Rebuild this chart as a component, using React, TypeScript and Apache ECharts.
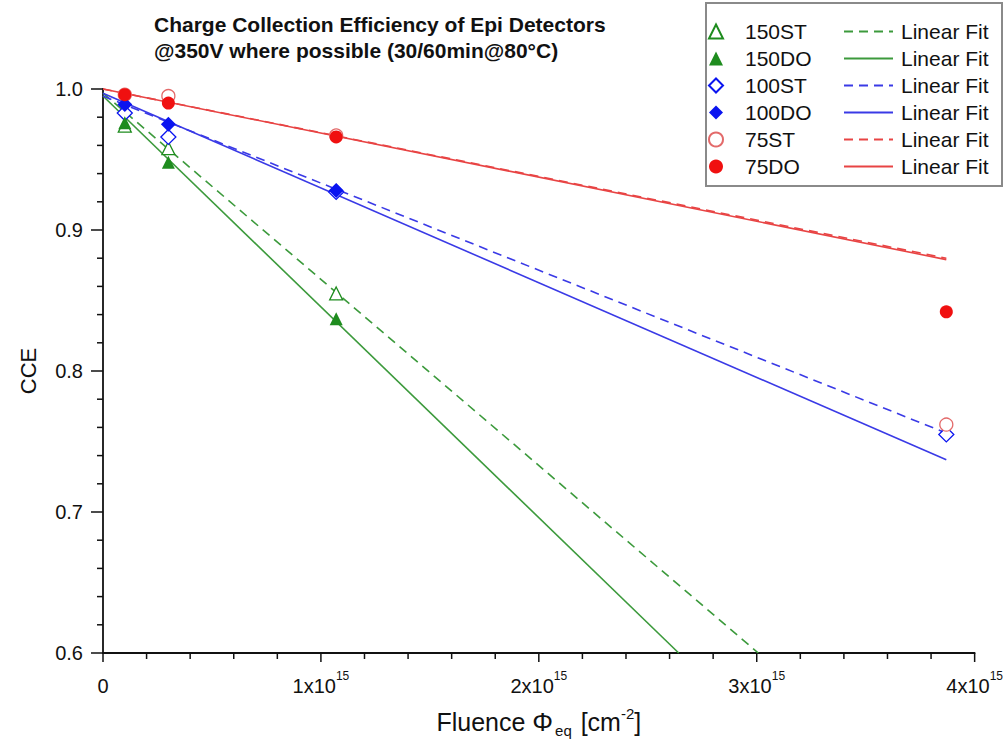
import React, { useEffect, useRef } from 'react';
import * as echarts from 'echarts';

// Fluence points [cm^-2]
const fluence = [1e14, 3e14, 1.07e15, 3.87e15];

// CCE values per detector (null = no measurement)
const cce150ST = [0.974, 0.958, 0.855, null];
const cce150DO = [0.976, 0.948, 0.837, null];
const cce100ST = [0.983, 0.966, 0.927, 0.755];
const cce100DO = [0.989, 0.975, 0.928, null];
const cce75ST = [0.996, 0.995, 0.967, 0.762];
const cce75DO = [0.996, 0.99, 0.966, 0.842];

// Linear fit end points [fluence, CCE]
const fit150ST = [[0, 0.997], [3.007e15, 0.6]];
const fit150DO = [[0, 0.995], [2.642e15, 0.6]];
const fit100ST = [[0, 0.995], [3.87e15, 0.756]];
const fit100DO = [[0, 0.997], [3.87e15, 0.737]];
const fit75ST = [[0, 1.0], [3.87e15, 0.88]];
const fit75DO = [[0, 1.0], [3.87e15, 0.879]];

const xTicks = ['0', '1', '2', '3', '4'];

const X_MIN = 0;
const X_MAX = 4e15;
const X_STEP = 1e15;
const Y_MIN = 0.6;
const Y_MAX = 1.0;
const Y_STEP = 0.1;
const MINOR = 5;

const GREEN = '#1e8c1e';
const GREEN_L = '#3c9a3c';
const BLUE = '#0a14f0';
const BLUE_L = '#3a3ae6';
const RED = '#f01010';
const RED_L = '#e84444';
const RED_O = '#e36a6a';

const FONT = '"Liberation Sans", Arial, sans-serif';

function pairs(vals: (number | null)[]) {
  const out: number[][] = [];
  vals.forEach((v, i) => {
    if (v !== null) out.push([fluence[i], v]);
  });
  return out;
}

export default function App() {
  const ref = useRef<HTMLDivElement>(null);
  useEffect(() => {
    if (!ref.current) return;
    const chart = echarts.init(ref.current, undefined, { renderer: 'svg' });

    const scatter = (name: string, vals: (number | null)[], symbol: string, color: string, open: boolean) => ({
      type: 'scatter',
      name,
      data: pairs(vals),
      symbol,
      symbolSize: symbol === 'diamond' ? 15 : 13,
      clip: false,
      z: open ? 3 : 4,
      itemStyle: open
        ? { color: '#ffffff', borderColor: color, borderWidth: 1.3, opacity: 1 }
        : { color, borderWidth: 0, opacity: 1 },
    });
    const fit = (name: string, data: number[][], color: string, dashed: boolean) => ({
      type: 'line',
      name,
      data,
      symbol: 'none',
      clip: false,
      z: 2,
      lineStyle: { color, width: 1.6, type: dashed ? [9, 6] : 'solid' },
      itemStyle: { color },
    });

    const scatterNames = ['150ST', '150DO', '100ST', '100DO', '75ST', '75DO'];
    const fitNames = ['fit150ST', 'fit150DO', 'fit100ST', 'fit100DO', 'fit75ST', 'fit75DO'];

    const legendBox = {
      type: 'rect',
      id: 'legendBox',
      shape: { x: 706, y: 3, width: 296, height: 183 },
      style: { fill: 'none', stroke: '#8a8a8a', lineWidth: 2 },
      z: 100,
    };

    const option: any = {
      animation: false,
      backgroundColor: '#ffffff',
      title: {
        text: 'Charge Collection Efficiency of Epi Detectors\n@350V where possible (30/60min@80°C)',
        left: 154,
        top: 11,
        padding: 0,
        textStyle: { fontFamily: FONT, fontSize: 21, fontWeight: 'bold', color: '#111', lineHeight: 26 },
      },
      grid: { left: 103, right: 25, top: 89, bottom: 90, containLabel: false },
      xAxis: {
        type: 'value',
        min: X_MIN,
        max: X_MAX,
        interval: X_STEP,
        name: '{n|Fluence }{p|Φ}{sub|eq}{n| [cm}{sup|-2}{n|]}',
        nameLocation: 'middle',
        nameGap: 53,
        nameTextStyle: {
          rich: {
            n: { fontFamily: FONT, fontSize: 25, color: '#111', lineHeight: 32, verticalAlign: 'middle' },
            p: { fontFamily: FONT, fontSize: 26, color: '#111', lineHeight: 32, verticalAlign: 'middle', padding: [0, 2, 0, 0] },
            sub: { fontFamily: FONT, fontSize: 15, color: '#111', lineHeight: 15, verticalAlign: 'bottom', padding: [0, 2, 0, 0] },
            sup: { fontFamily: FONT, fontSize: 15, color: '#111', lineHeight: 15, verticalAlign: 'top' },
          },
        },
        axisLine: { show: true, onZero: false, lineStyle: { color: '#111', width: 1.8 } },
        axisTick: { show: false },
        minorTick: { show: false },
        splitLine: { show: false },
        axisLabel: {
          margin: 17,
          formatter: (v: number) => {
            const k = Math.round(v / X_STEP);
            return k === 0 ? '{b|' + xTicks[0] + '}' : '{b|' + xTicks[k] + 'x10}{s|15}';
          },
          rich: {
            b: { fontFamily: FONT, fontSize: 20, color: '#111', lineHeight: 26, verticalAlign: 'bottom' },
            s: { fontFamily: FONT, fontSize: 12, color: '#111', lineHeight: 12, verticalAlign: 'top' },
          },
        },
      },
      yAxis: {
        type: 'value',
        min: Y_MIN,
        max: Y_MAX,
        interval: Y_STEP,
        name: 'CCE',
        nameLocation: 'middle',
        nameGap: 64,
        nameRotate: 90,
        nameTextStyle: { fontFamily: FONT, fontSize: 22, color: '#111' },
        axisLine: { show: true, onZero: false, lineStyle: { color: '#111', width: 1.8 } },
        axisTick: { show: false },
        minorTick: { show: false },
        splitLine: { show: false },
        axisLabel: {
          margin: 20,
          fontFamily: FONT,
          fontSize: 20,
          color: '#111',
          formatter: (v: number) => v.toFixed(1),
        },
      },
      legend: [
        {
          orient: 'vertical',
          left: 708,
          top: 21,
          padding: 0,
          itemWidth: 14,
          itemHeight: 14,
          itemGap: 6,
          data: scatterNames,
          textStyle: { fontFamily: FONT, fontSize: 21, color: '#111', lineHeight: 21, padding: [0, 0, 0, 17] },
          selectedMode: false,
        },
        {
          orient: 'vertical',
          left: 843,
          top: 21,
          padding: 0,
          itemWidth: 49,
          itemHeight: 14,
          itemGap: 6,
          data: fitNames,
          formatter: () => 'Linear Fit',
          itemStyle: { opacity: 0 },
          textStyle: { fontFamily: FONT, fontSize: 21, color: '#111', lineHeight: 21, padding: [0, 0, 0, 3] },
          selectedMode: false,
        },
      ],
      graphic: [legendBox],
      series: [
        fit(fitNames[0], fit150ST, GREEN_L, true),
        fit(fitNames[1], fit150DO, GREEN_L, false),
        fit(fitNames[2], fit100ST, BLUE_L, true),
        fit(fitNames[3], fit100DO, BLUE_L, false),
        fit(fitNames[4], fit75ST, RED_L, true),
        fit(fitNames[5], fit75DO, RED_L, false),
        scatter(scatterNames[0], cce150ST, 'triangle', GREEN, true),
        scatter(scatterNames[1], cce150DO, 'triangle', GREEN, false),
        scatter(scatterNames[2], cce100ST, 'diamond', BLUE, true),
        scatter(scatterNames[3], cce100DO, 'diamond', BLUE, false),
        scatter(scatterNames[4], cce75ST, 'circle', RED_O, true),
        scatter(scatterNames[5], cce75DO, 'circle', RED, false),
      ],
    };
    chart.setOption(option);

    // Outward tick marks, placed through the axes' own scales
    const ticks: any[] = [];
    const axisXpx = chart.convertToPixel({ xAxisIndex: 0 }, X_MIN) as number;
    const axisYpx = chart.convertToPixel({ yAxisIndex: 0 }, Y_MIN) as number;
    const nx = Math.round((X_MAX - X_MIN) / X_STEP) * MINOR;
    for (let i = 0; i <= nx; i++) {
      const px = chart.convertToPixel({ xAxisIndex: 0 }, X_MIN + (i * X_STEP) / MINOR) as number;
      const len = i % MINOR === 0 ? 9 : 6;
      ticks.push({
        type: 'line',
        silent: true,
        z: 50,
        shape: { x1: px, y1: axisYpx, x2: px, y2: axisYpx + len },
        style: { stroke: '#111', lineWidth: 1.5 },
      });
    }
    const ny = Math.round((Y_MAX - Y_MIN) / Y_STEP) * MINOR;
    for (let i = 0; i <= ny; i++) {
      const py = chart.convertToPixel({ yAxisIndex: 0 }, Y_MIN + (i * Y_STEP) / MINOR) as number;
      const len = i % MINOR === 0 ? 12 : 6;
      ticks.push({
        type: 'line',
        silent: true,
        z: 50,
        shape: { x1: axisXpx - len, y1: py, x2: axisXpx, y2: py },
        style: { stroke: '#111', lineWidth: 1.5 },
      });
    }
    chart.setOption({ graphic: [legendBox, ...ticks] });

    return () => chart.dispose();
  }, []);

  return <div ref={ref} style={{ width: 1006, height: 743, position: 'absolute', left: 0, top: 0 }} />;
}
